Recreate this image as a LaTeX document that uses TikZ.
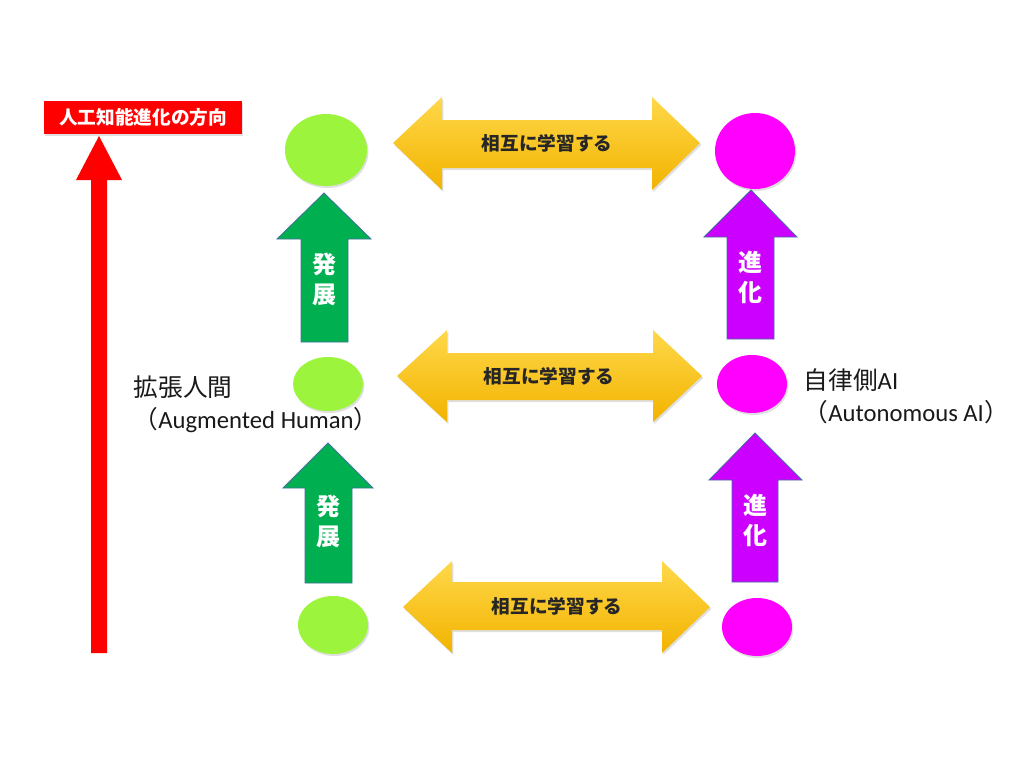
\documentclass[tikz,border=0pt]{standalone}
\usepackage{fontspec}
\setmainfont{Carlito}
\newfontfamily\jp{Noto Sans CJK JP}
\usetikzlibrary{shapes.geometric,shadows}
\definecolor{limeG}{HTML}{9CF53C}
\definecolor{magG}{HTML}{FF00FF}
\definecolor{arrG}{HTML}{00B050}
\definecolor{arrP}{HTML}{CC00FF}
\definecolor{edgeB}{HTML}{41719C}
\definecolor{yelT}{HTML}{FFD84A}
\definecolor{yelB}{HTML}{F2B300}
\definecolor{redR}{HTML}{FF0000}
\tikzset{
  softshadow/.style={drop shadow={opacity=0.25,shadow xshift=1pt,shadow yshift=-1.5pt}},
  blobg/.style={ellipse,fill=limeG,draw=none,inner sep=0pt,softshadow},
  blobm/.style={ellipse,fill=magG,draw=none,inner sep=0pt,softshadow},
  uparrowg/.style={fill=arrG,draw=edgeB,line width=0.6pt},
  uparrowp/.style={fill=arrP,draw=edgeB,line width=0.6pt},
  yarrow/.style={top color=yelT,bottom color=yelB,draw=none,softshadow},
  ytext/.style={font=\jp\bfseries\fontsize{14}{16}\selectfont,text=black!85},
  vtext/.style={font=\jp\bfseries\fontsize{18}{22.5}\selectfont,text=white,align=center},
  sidelabel/.style={font=\fontsize{18.5}{24}\selectfont,align=left,anchor=west,text=black!90},
}
\begin{document}
\begin{tikzpicture}[x=0.75pt,y=-0.75pt]
\useasboundingbox (0,0) rectangle (1024,768);
\fill[white] (0,0) rectangle (1024,768);

% red direction arrow
\fill[redR] (91,653) -- (91,180) -- (76,180) -- (99,136) -- (122,180) -- (107,180) -- (107,653) -- cycle;
\node[fill=redR,minimum width=148.5pt,minimum height=24.75pt,inner sep=0pt,softshadow,
      font=\jp\bfseries\fontsize{14}{17}\selectfont,text=white] (lbl) at (143,117.5) {人工知能進化の方向};

% ellipses
\node[blobg,minimum width=61.5pt,minimum height=54pt] (g1) at (326,150) {};
\node[blobg,minimum width=52.5pt,minimum height=40.5pt] (g2) at (328,384) {};
\node[blobg,minimum width=52.5pt,minimum height=43.5pt] (g3) at (333,625) {};
\node[blobm,minimum width=60pt,minimum height=57pt] (m1) at (755,151) {};
\node[blobm,minimum width=52.5pt,minimum height=43.5pt] (m2) at (752,384) {};
\node[blobm,minimum width=52.5pt,minimum height=43.5pt] (m3) at (757,627) {};

% yellow double arrows
\path[yarrow] (393,143) -- (442,97) -- (442,120) -- (652,120) -- (652,97) -- (700,143)
  -- (652,190) -- (652,168) -- (442,168) -- (442,190) -- cycle;
\node[ytext] (y1) at (547,143) {相互に学習する};
\path[yarrow] (397,376) -- (447,330) -- (447,353) -- (653,353) -- (653,330) -- (702,376)
  -- (653,422) -- (653,400) -- (447,400) -- (447,422) -- cycle;
\node[ytext] (y2) at (549,376) {相互に学習する};
\path[yarrow] (403,607) -- (452,561) -- (452,582) -- (662,582) -- (662,561) -- (710,607)
  -- (662,653) -- (662,630) -- (452,630) -- (452,653) -- cycle;
\node[ytext] (y3) at (557,606) {相互に学習する};

% green up arrows
\draw[uparrowg] (301,342) -- (301,239) -- (277,239) -- (324,193) -- (371,239) -- (348,239) -- (348,342) -- cycle;
\node[vtext] (t1) at (324,279) {発\\展};
\draw[uparrowg] (305,583) -- (305,488) -- (283,488) -- (328,443) -- (373,488) -- (352,488) -- (352,583) -- cycle;
\node[vtext] (t2) at (328,521) {発\\展};

% purple up arrows
\draw[uparrowp] (727,339) -- (727,237) -- (704,237) -- (751,190) -- (797,237) -- (774,237) -- (774,339) -- cycle;
\node[vtext] (t3) at (750,277) {進\\化};
\draw[uparrowp] (732,582) -- (732,480) -- (709,480) -- (755,433) -- (802,480) -- (778,480) -- (778,582) -- cycle;
\node[vtext] (t4) at (755,520) {進\\化};

% side labels
\node[sidelabel] (ah) at (129,404) {{\jp 拡張人間}\\{\jp （}Augmented Human{\jp ）}};
\node[sidelabel] (aa) at (799,396) {{\jp 自律側}AI\\{\jp （}Autonomous AI{\jp ）}};
\end{tikzpicture}
\end{document}
